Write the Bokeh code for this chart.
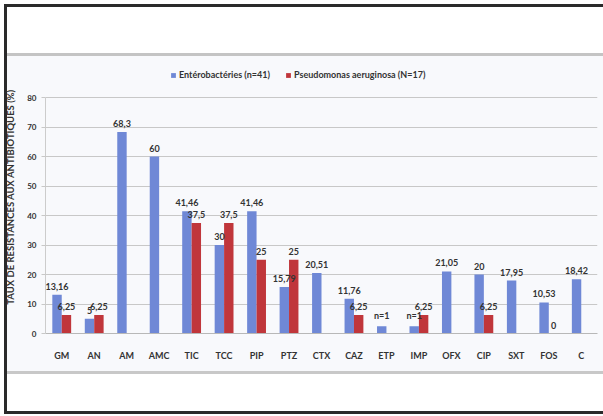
from bokeh.plotting import figure
from bokeh.models import FactorRange, Range1d, Legend, LegendItem, ColumnDataSource
from bokeh.transform import dodge
from bokeh.core.properties import value
from bokeh.embed import file_html
from bokeh.resources import INLINE

categories = ["GM", "AN", "AM", "AMC", "TIC", "TCC", "PIP", "PTZ", "CTX",
              "CAZ", "ETP", "IMP", "OFX", "CIP", "SXT", "FOS", "C"]
entero = [13.16, 5, 68.3, 60, 41.46, 30, 41.46, 15.79, 20.51,
          11.76, 2.44, 2.44, 21.05, 20, 17.95, 10.53, 18.42]
entero_labels = ["13,16", "5", "68,3", "60", "41,46", "30", "41,46", "15,79", "20,51",
                 "11,76", "n=1", "n=1", "21,05", "20", "17,95", "10,53", "18,42"]
pseudo = [6.25, 6.25, None, None, 37.5, 37.5, 25, 25, None,
          6.25, None, 6.25, None, 6.25, None, 0, None]
pseudo_labels = ["6,25", "6,25", "", "", "37,5", "37,5", "25", "25", "",
                 "6,25", "", "6,25", "", "6,25", "", "0", ""]
y_ticks = [0, 10, 20, 30, 40, 50, 60, 70, 80]

BLUE = "#6f88d6"
RED = "#c0363b"
TXT = "#333333"
FONT = "Lato"

src_e = ColumnDataSource(dict(cat=categories, val=entero, lab=entero_labels))
pc = [c for c, v in zip(categories, pseudo) if v is not None]
pv = [v for v in pseudo if v is not None]
pl = [l for l, v in zip(pseudo_labels, pseudo) if v is not None]
src_p = ColumnDataSource(dict(cat=pc, val=pv, lab=pl))

# frame: x 45..597, y 60..333 ; value 80 sits at y=97
p = figure(width=603, height=416, x_range=FactorRange(factors=categories, range_padding=0),
           y_range=Range1d(0, 80 * 273 / 236), output_backend="svg", toolbar_location=None,
           min_border_left=45, min_border_right=6, min_border_top=60, min_border_bottom=83)
p.border_fill_alpha = 0
p.background_fill_alpha = 0
p.outline_line_color = None


def bar(color, x, y, w, h):
    return f"linear-gradient({color},{color}) {x}px {y}px / {w}px {h}px no-repeat"


p.styles = {"background": ", ".join([
    bar("#2a2a2a", 4, 4, 599, 3),
    bar("#2a2a2a", 4, 4, 3, 410),
    bar("#2a2a2a", 4, 411, 599, 3),
    bar("#c4c4c4", 7, 53, 596, 3),
    bar("#c8c8c8", 7, 371, 596, 3),
    bar("#f8f9fc", 7, 56, 596, 315),
]) + ", white"}

W = 0.29
rb = p.vbar(x=dodge("cat", -0.145, range=p.x_range), top="val", width=W, source=src_e,
            fill_color=BLUE, line_color=None)
rr = p.vbar(x=dodge("cat", 0.145, range=p.x_range), top="val", width=W, source=src_p,
            fill_color=RED, line_color=None)

for src, off in [(src_e, -0.145), (src_p, 0.145)]:
    p.text(x=dodge("cat", off, range=p.x_range), y="val", text="lab", source=src,
           text_font=value(FONT), text_font_style="bold", text_font_size="9px",
           text_color=TXT, text_align="center", text_baseline="bottom", y_offset=-5)

p.xgrid.grid_line_color = None
p.ygrid.grid_line_color = "#c8c8c8"
p.ygrid.ticker = y_ticks

p.yaxis.ticker = y_ticks
p.yaxis.bounds = (0, 80)
p.yaxis.axis_label = "TAUX DE RESISTANCES AUX ANTIBIOTIQUES (%)"
p.yaxis.axis_label_text_font = FONT
p.yaxis.axis_label_text_font_style = "bold"
p.yaxis.axis_label_text_font_size = "9.5px"
p.yaxis.axis_label_text_color = TXT
p.yaxis.axis_label_standoff = 8
p.yaxis.major_label_text_font = FONT
p.yaxis.major_label_text_font_style = "bold"
p.yaxis.major_label_text_font_size = "8px"
p.yaxis.major_label_text_color = TXT
p.yaxis.major_label_standoff = 5
p.yaxis.major_tick_out = 4
p.yaxis.major_tick_in = 0
p.yaxis.major_tick_line_color = "#c8c8c8"
p.yaxis.minor_tick_line_color = None
p.yaxis.axis_line_color = "#cccccc"

p.xaxis.major_label_text_font = FONT
p.xaxis.major_label_text_font_style = "bold"
p.xaxis.major_label_text_font_size = "9px"
p.xaxis.major_label_text_color = TXT
p.xaxis.major_tick_line_color = None
p.xaxis.major_label_standoff = 10
p.xaxis.axis_line_color = "#b8b8b8"

legend = Legend(items=[LegendItem(label="Entérobactéries (n=41)", renderers=[rb]),
                       LegendItem(label="Pseudomonas aeruginosa (N=17)", renderers=[rr])],
                orientation="horizontal", location=(125, 253), padding=0, margin=0,
                spacing=15, glyph_width=6, glyph_height=6, label_standoff=3,
                label_text_font=FONT, label_text_font_style="bold", label_text_font_size="9px",
                label_text_color=TXT, border_line_color=None, background_fill_alpha=0,
                label_height=10)
p.add_layout(legend, "center")

open("out.html", "w").write(file_html(p, INLINE))
